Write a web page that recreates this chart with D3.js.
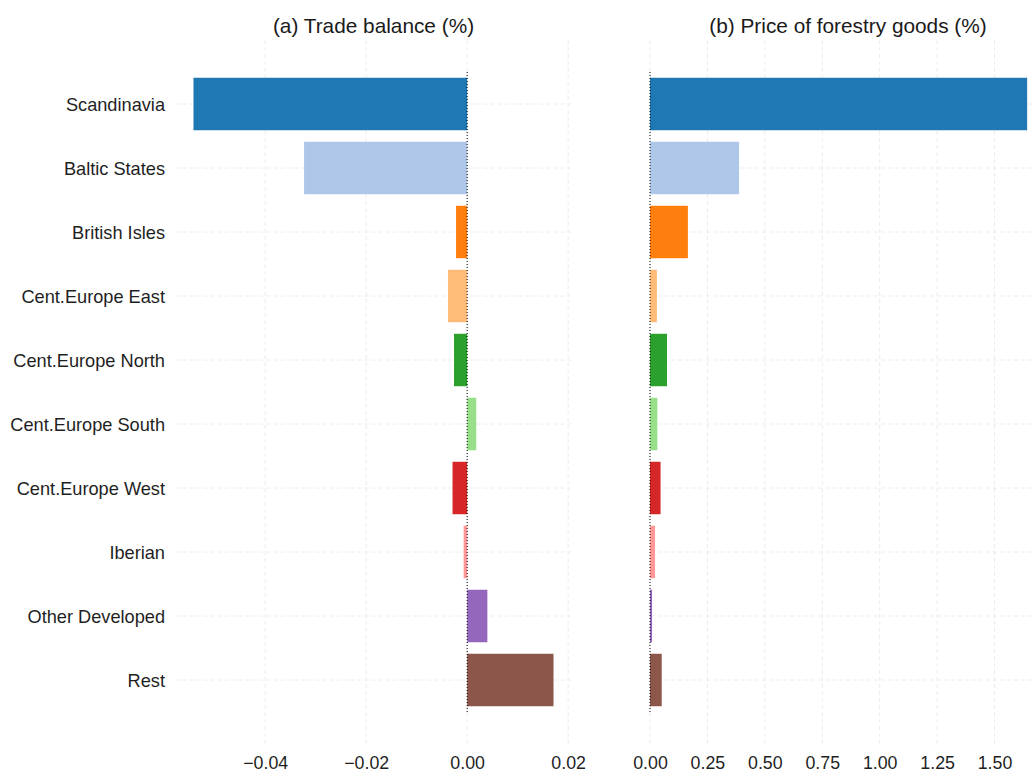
<!DOCTYPE html>
<html>
<head>
<meta charset="utf-8">
<script src="https://cdn.jsdelivr.net/npm/d3@7"></script>
<style>
  html, body { margin: 0; padding: 0; background: #fff; }
  svg { display: block; font-family: "Liberation Sans", Arial, Helvetica, sans-serif; }
</style>
</head>
<body>
<svg id="chart" width="1032" height="772"></svg>
<script>
// Regions, top to bottom
const regions = [
  "Scandinavia", "Baltic States", "British Isles", "Cent.Europe East",
  "Cent.Europe North", "Cent.Europe South", "Cent.Europe West",
  "Iberian", "Other Developed", "Rest"
];
// Bar fill for each region
const regionColors = [
  "#1f77b4", "#aec7e8", "#ff7f0e", "#ffbb78", "#2ca02c",
  "#98df8a", "#d62728", "#ff9896", "#9467bd", "#8c564b"
];
// (a) change in trade balance, %
const tradeBalance = [
  -0.0542, -0.0323, -0.0022, -0.0038, -0.0026,
   0.0018, -0.0029, -0.0007,  0.0040,  0.0171
];
// (b) change in price of forestry goods, %
const forestryPrice = [
  1.642, 0.388, 0.165, 0.030, 0.074,
  0.032, 0.046, 0.022, 0.009, 0.051
];
const tradeTicks = [-0.04, -0.02, 0.00, 0.02];
const priceTicks = [0.00, 0.25, 0.50, 0.75, 1.00, 1.25, 1.50];
const panelTitles = ["(a) Trade balance (%)", "(b) Price of forestry goods (%)"];

const svg = d3.select("#chart");
const panelTop = 40, panelBottom = 744;

// Band scale shared by both panels
const y = d3.scaleBand()
  .domain(regions)
  .range([72, 712])
  .paddingInner(0.18)
  .paddingOuter(0.09);

// Left panel: symmetric 5% expansion around the data range
const [tMin, tMax] = d3.extent(tradeBalance);
const tPad = (tMax - tMin) * 0.05;
const xTrade = d3.scaleLinear().domain([tMin - tPad, tMax + tPad]).range([175.5, 571.5]);

// Right panel: starts at zero, 5% expansion on the right
const xPrice = d3.scaleLinear().domain([0, d3.max(forestryPrice) * 1.05]).range([650, 1046]);

// Region labels on the left
svg.append("g").selectAll("text")
  .data(regions)
  .join("text")
  .attr("x", 165)
  .attr("y", d => y(d) + y.bandwidth() / 2)
  .attr("dy", "0.38em")
  .attr("text-anchor", "end")
  .attr("font-size", 18.2)
  .attr("fill", "#1f1f1f")
  .text(d => d);

function drawPanel(x, values, ticks, title) {
  const g = svg.append("g");
  const [x0, x1] = x.range();

  // Dashed grid
  g.append("g").selectAll("line")
    .data(ticks)
    .join("line")
    .attr("x1", d => x(d)).attr("x2", d => x(d))
    .attr("y1", panelTop).attr("y2", panelBottom)
    .attr("stroke", "#ececec").attr("stroke-width", 1)
    .attr("stroke-dasharray", "4,3");
  g.append("g").selectAll("line")
    .data(regions)
    .join("line")
    .attr("x1", x0).attr("x2", x1)
    .attr("y1", d => y(d) + y.bandwidth() / 2)
    .attr("y2", d => y(d) + y.bandwidth() / 2)
    .attr("stroke", "#ececec").attr("stroke-width", 1)
    .attr("stroke-dasharray", "4,3");

  // Bars
  g.append("g").selectAll("rect")
    .data(values)
    .join("rect")
    .attr("x", d => Math.min(x(0), x(d)))
    .attr("width", d => Math.abs(x(d) - x(0)))
    .attr("y", (d, i) => y(regions[i]))
    .attr("height", y.bandwidth())
    .attr("fill", (d, i) => regionColors[i]);

  // Dotted zero reference line
  g.append("line")
    .attr("x1", x(0)).attr("x2", x(0))
    .attr("y1", y.range()[0]).attr("y2", y.range()[1])
    .attr("stroke", "#000").attr("stroke-width", 1)
    .attr("stroke-dasharray", "1,2");

  // Bottom axis (labels only)
  const axis = d3.axisBottom(x)
    .tickValues(ticks)
    .tickSize(0)
    .tickPadding(12.5)
    .tickFormat(d3.format(".2f"));
  const ax = g.append("g")
    .attr("transform", `translate(0,${panelBottom})`)
    .call(axis);
  ax.select(".domain").remove();
  ax.selectAll("text")
    .attr("font-size", 17.8)
    .attr("font-family", "Liberation Sans, Arial, sans-serif")
    .attr("fill", "#1f1f1f");

  // Panel title
  g.append("text")
    .attr("x", (x0 + x1) / 2)
    .attr("y", 33)
    .attr("text-anchor", "middle")
    .attr("font-size", 20.8)
    .attr("fill", "#1a1a1a")
    .text(title);
}

drawPanel(xTrade, tradeBalance, tradeTicks, panelTitles[0]);
drawPanel(xPrice, forestryPrice, priceTicks, panelTitles[1]);
</script>
</body>
</html>
